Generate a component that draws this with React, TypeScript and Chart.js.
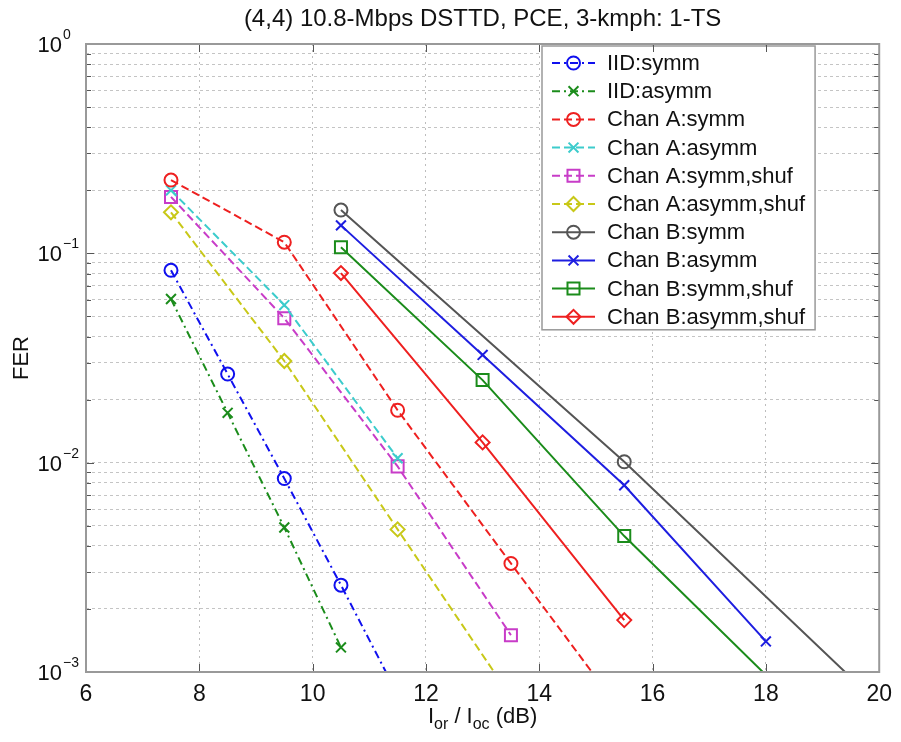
import React, { useEffect, useRef } from "react";
import { Chart, registerables } from "chart.js";

Chart.register(...registerables);

const FONT = '"Liberation Sans", Arial, Helvetica, sans-serif';

// ---- text / ticks ----
const titleText = "(4,4) 10.8-Mbps DSTTD, PCE, 3-kmph: 1-TS";
const yAxisTitle = "FER";
const xTickValues = [6, 8, 10, 12, 14, 16, 18, 20];
const yDecades = [1, 0.1, 0.01, 0.001];
const yExponents = ["0", "\u22121", "\u22122", "\u22123"];
const yMinorMultipliers = [1, 2, 3, 4, 5, 6, 7, 8, 9];

const seriesNames = [
  "IID:symm",
  "IID:asymm",
  "Chan A:symm",
  "Chan A:asymm",
  "Chan A:symm,shuf",
  "Chan A:asymm,shuf",
  "Chan B:symm",
  "Chan B:asymm",
  "Chan B:symm,shuf",
  "Chan B:asymm,shuf",
];

// ---- data (Ior/Ioc in dB, FER) ----
const iidSymmX = [7.5, 8.5, 9.5, 10.5, 11.5];
const iidSymmY = [0.083, 0.0265, 0.0084, 0.0026, 0.00078];
const iidAsymmX = [7.5, 8.5, 9.5, 10.5];
const iidAsymmY = [0.0605, 0.0173, 0.0049, 0.00131];
const chanASymmX = [7.5, 9.5, 11.5, 13.5, 15.5];
const chanASymmY = [0.224, 0.113, 0.0178, 0.0033, 0.00062];
const chanAAsymmX = [7.5, 9.5, 11.5];
const chanAAsymmY = [0.2, 0.0566, 0.0105];
const chanASymmShufX = [7.5, 9.5, 11.5, 13.5];
const chanASymmShufY = [0.186, 0.049, 0.0096, 0.0015];
const chanAAsymmShufX = [7.5, 9.5, 11.5, 13.5];
const chanAAsymmShufY = [0.157, 0.0306, 0.0048, 0.00076];
const chanBSymmX = [10.5, 15.5, 20.5];
const chanBSymmY = [0.161, 0.0101, 0.00052];
const chanBAsymmX = [10.5, 13, 15.5, 18];
const chanBAsymmY = [0.136, 0.0327, 0.0078, 0.0014];
const chanBSymmShufX = [10.5, 13, 15.5, 20.5];
const chanBSymmShufY = [0.107, 0.0248, 0.00446, 0.00021];
const chanBAsymmShufX = [10.5, 13, 15.5];
const chanBAsymmShufY = [0.0805, 0.0125, 0.00177];

const DASH = [8, 4];
const DASHDOT = [8, 4, 2, 4];
const SOLID: number[] = [];

const markerRadius: Record<string, number> = {
  circle: 6.5,
  crossRot: 7,
  rect: 8.5,
  rectRot: 7,
};

const seriesDefs = [
  { xs: iidSymmX, ys: iidSymmY, color: "#1010ee", dash: DASHDOT, marker: "circle" },
  { xs: iidAsymmX, ys: iidAsymmY, color: "#1b8c1b", dash: DASHDOT, marker: "crossRot" },
  { xs: chanASymmX, ys: chanASymmY, color: "#ee2020", dash: DASH, marker: "circle" },
  { xs: chanAAsymmX, ys: chanAAsymmY, color: "#3ccccc", dash: DASH, marker: "crossRot" },
  { xs: chanASymmShufX, ys: chanASymmShufY, color: "#c83cc8", dash: DASH, marker: "rect" },
  { xs: chanAAsymmShufX, ys: chanAAsymmShufY, color: "#c8c818", dash: DASH, marker: "rectRot" },
  { xs: chanBSymmX, ys: chanBSymmY, color: "#555555", dash: SOLID, marker: "circle" },
  { xs: chanBAsymmX, ys: chanBAsymmY, color: "#1e1ee0", dash: SOLID, marker: "crossRot" },
  { xs: chanBSymmShufX, ys: chanBSymmShufY, color: "#1b8c1b", dash: SOLID, marker: "rect" },
  { xs: chanBAsymmShufX, ys: chanBAsymmShufY, color: "#ee2020", dash: SOLID, marker: "rectRot" },
];

function drawMarker(
  ctx: CanvasRenderingContext2D,
  style: string,
  x: number,
  y: number,
  r: number,
  color: string
) {
  ctx.save();
  ctx.strokeStyle = color;
  ctx.lineWidth = 2;
  ctx.setLineDash([]);
  ctx.beginPath();
  const s = r * Math.SQRT1_2;
  if (style === "circle") {
    ctx.arc(x, y, r, 0, Math.PI * 2);
  } else if (style === "crossRot") {
    ctx.moveTo(x - s, y - s);
    ctx.lineTo(x + s, y + s);
    ctx.moveTo(x - s, y + s);
    ctx.lineTo(x + s, y - s);
  } else if (style === "rect") {
    ctx.rect(x - s, y - s, 2 * s, 2 * s);
  } else if (style === "rectRot") {
    ctx.moveTo(x - r, y);
    ctx.lineTo(x, y - r);
    ctx.lineTo(x + r, y);
    ctx.lineTo(x, y + r);
    ctx.closePath();
  }
  ctx.stroke();
  ctx.restore();
}

const legendPlugin = {
  id: "matlabLegend",
  afterDatasetsDraw(chart: any) {
    const ctx: CanvasRenderingContext2D = chart.ctx;
    const ds = chart.data.datasets;
    ctx.save();
    ctx.font = `22px ${FONT}`;
    let maxW = 0;
    ds.forEach((d: any) => {
      maxW = Math.max(maxW, ctx.measureText(d.label).width);
    });
    const left = 542;
    const top = 46;
    const rowH = 28.2;
    const firstY = 63;
    const textX = 607;
    const right = textX + maxW + 10;
    const bottom = firstY + (ds.length - 1) * rowH + 13;
    ctx.fillStyle = "#ffffff";
    ctx.fillRect(left, top, right - left, bottom - top);
    ctx.strokeStyle = "#999999";
    ctx.lineWidth = 1.5;
    ctx.strokeRect(left, top, right - left, bottom - top);
    ds.forEach((d: any, i: number) => {
      const y = firstY + i * rowH;
      ctx.strokeStyle = d.borderColor;
      ctx.lineWidth = 2;
      ctx.setLineDash(d.borderDash || []);
      ctx.beginPath();
      ctx.moveTo(552, y);
      ctx.lineTo(595, y);
      ctx.stroke();
      ctx.setLineDash([]);
      drawMarker(ctx, d.pointStyle, 573.5, y, d.pointRadius, d.borderColor);
      ctx.fillStyle = "#111111";
      ctx.textBaseline = "middle";
      ctx.textAlign = "left";
      ctx.fillText(d.label, textX, y + 1);
    });
    ctx.restore();
  },
};

const decoPlugin = {
  id: "matlabDeco",
  afterDraw(chart: any) {
    const ctx: CanvasRenderingContext2D = chart.ctx;
    const a = chart.chartArea;
    const xs = chart.scales.x;
    const ys = chart.scales.y;
    ctx.save();
    ctx.setLineDash([]);
    // inside tick marks
    ctx.strokeStyle = "#555555";
    ctx.lineWidth = 1;
    ctx.beginPath();
    xTickValues.forEach((v) => {
      const px = Math.round(xs.getPixelForValue(v)) + 0.5;
      ctx.moveTo(px, a.bottom);
      ctx.lineTo(px, a.bottom - 8);
      ctx.moveTo(px, a.top);
      ctx.lineTo(px, a.top + 8);
    });
    yDecades.forEach((d) => {
      yMinorMultipliers.forEach((m) => {
        const v = d * m;
        if (v > 1.0001) return;
        const py = Math.round(ys.getPixelForValue(v)) + 0.5;
        const len = m === 1 ? 8 : 5;
        ctx.moveTo(a.left, py);
        ctx.lineTo(a.left + len, py);
        ctx.moveTo(a.right, py);
        ctx.lineTo(a.right - len, py);
      });
    });
    ctx.stroke();
    // box
    ctx.strokeStyle = "#999999";
    ctx.lineWidth = 2;
    ctx.strokeRect(a.left, a.top, a.right - a.left, a.bottom - a.top);

    ctx.fillStyle = "#111111";
    // y tick labels 10^n
    yDecades.forEach((d, i) => {
      const py = ys.getPixelForValue(d);
      ctx.font = `22px ${FONT}`;
      ctx.textAlign = "right";
      ctx.textBaseline = "middle";
      ctx.fillText("10", 62, py + 2);
      ctx.font = `14px ${FONT}`;
      ctx.textAlign = "left";
      ctx.textBaseline = "alphabetic";
      ctx.fillText(yExponents[i], 63, py - 5);
    });

    // title
    ctx.font = `24px ${FONT}`;
    ctx.textAlign = "center";
    ctx.textBaseline = "middle";
    ctx.fillText(titleText, (a.left + a.right) / 2, 19);

    // y axis title
    ctx.save();
    ctx.translate(22, (a.top + a.bottom) / 2);
    ctx.rotate(-Math.PI / 2);
    ctx.font = `22px ${FONT}`;
    ctx.textAlign = "center";
    ctx.textBaseline = "middle";
    ctx.fillText(yAxisTitle, 0, 0);
    ctx.restore();

    // x axis title: I_or / I_oc (dB)
    const parts: [string, boolean][] = [
      ["I", false],
      ["or", true],
      [" / I", false],
      ["oc", true],
      [" (dB)", false],
    ];
    const mainF = `22px ${FONT}`;
    const subF = `16px ${FONT}`;
    let total = 0;
    parts.forEach(([t, sub]) => {
      ctx.font = sub ? subF : mainF;
      total += ctx.measureText(t).width;
    });
    let cx = (a.left + a.right) / 2 - total / 2;
    const base = 723;
    ctx.textAlign = "left";
    ctx.textBaseline = "alphabetic";
    parts.forEach(([t, sub]) => {
      ctx.font = sub ? subF : mainF;
      ctx.fillText(t, cx, sub ? base + 6 : base);
      cx += ctx.measureText(t).width;
    });
    ctx.restore();
  },
};

export default function App() {
  const ref = useRef<HTMLCanvasElement | null>(null);
  useEffect(() => {
    if (!ref.current) return;
    const datasets = seriesDefs.map((s, i) => ({
      label: seriesNames[i],
      data: s.xs.map((x, j) => ({ x, y: s.ys[j] })),
      borderColor: s.color,
      backgroundColor: "rgba(0,0,0,0)",
      borderWidth: 2,
      borderDash: s.dash,
      pointStyle: s.marker,
      pointRadius: markerRadius[s.marker],
      pointHoverRadius: markerRadius[s.marker],
      pointBorderWidth: 2,
      pointBorderColor: s.color,
      pointBackgroundColor: "rgba(255,255,255,0)",
      tension: 0,
      fill: false,
      clip: 0,
    }));
    const allYTicks: number[] = [];
    yDecades.forEach((d) =>
      yMinorMultipliers.forEach((m) => {
        const v = d * m;
        if (v <= 1.0001) allYTicks.push(v);
      })
    );
    const chart = new Chart(ref.current, {
      type: "line",
      data: { datasets: datasets as any },
      options: {
        animation: false,
        responsive: false,
        events: [],
        layout: { padding: { left: 0, right: 17, top: 44, bottom: 0 } },
        plugins: {
          legend: { display: false },
          title: { display: false },
          tooltip: { enabled: false },
        },
        scales: {
          x: {
            type: "linear",
            min: 6,
            max: 20,
            afterBuildTicks: (scale: any) => {
              scale.ticks = xTickValues.map((v) => ({ value: v }));
            },
            afterFit: (scale: any) => {
              scale.height = 70;
            },
            ticks: {
              font: { family: FONT, size: 23 },
              color: "#111111",
              padding: 9,
              maxRotation: 0,
              autoSkip: false,
            },
            grid: {
              color: "#bdbdbd",
              lineWidth: 1,
              drawTicks: false,
            },
            border: { display: false, dash: [2, 4] },
          },
          y: {
            type: "logarithmic",
            min: 0.001,
            max: 1,
            afterBuildTicks: (scale: any) => {
              scale.ticks = allYTicks.map((v) => ({ value: v }));
            },
            afterFit: (scale: any) => {
              scale.width = 86;
            },
            ticks: {
              callback: () => "",
              autoSkip: false,
            },
            grid: {
              color: "#c4c4c4",
              lineWidth: 1,
              drawTicks: false,
            },
            border: { display: false, dash: [3, 3] },
          },
        },
      },
      plugins: [legendPlugin, decoPlugin],
    });
    return () => chart.destroy();
  }, []);
  return (
    <div style={{ position: "absolute", left: 0, top: 0, width: 901, height: 742, background: "#ffffff" }}>
      <canvas ref={ref} width={901} height={742} style={{ display: "block" }} />
    </div>
  );
}
